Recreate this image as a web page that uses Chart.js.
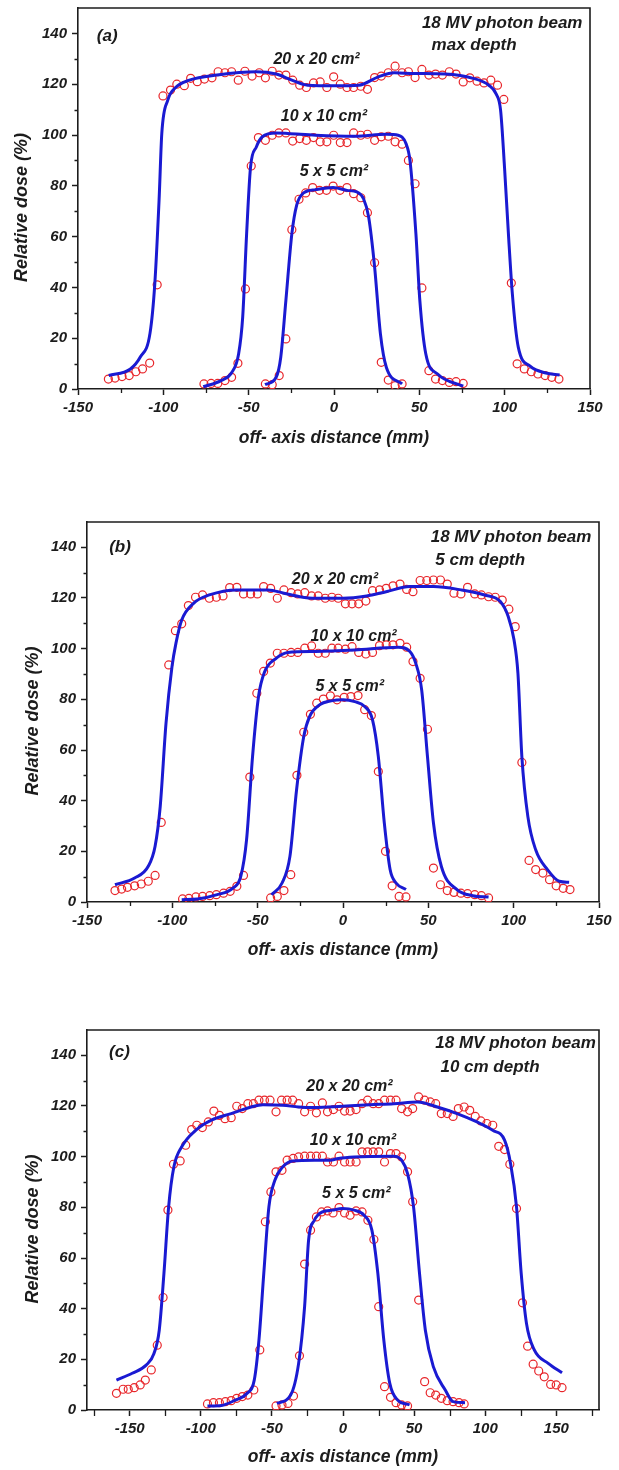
<!DOCTYPE html>
<html><head><meta charset="utf-8">
<script src="https://cdn.jsdelivr.net/npm/chart.js@4.4.1/dist/chart.umd.min.js"></script>
<style>
html,body{margin:0;padding:0;background:#fff;width:619px;height:1470px;overflow:hidden;}
.panel{position:absolute;left:0;width:619px;}
canvas{display:block;}
</style></head><body>
<div class="panel" style="top:0px;height:460px"><canvas id="ca" width="619" height="460"></canvas></div>
<div class="panel" style="top:490px;height:480px"><canvas id="cb" width="619" height="480"></canvas></div>
<div class="panel" style="top:990px;height:480px"><canvas id="cc" width="619" height="480"></canvas></div>
<script>
// ---------------- DATA ----------------
// tick values
const xTicksAB = [-150,-125,-100,-75,-50,-25,0,25,50,75,100,125,150];
const xMajorAB = [-150,-100,-50,0,50,100,150];
const xTicksC = [-175,-150,-125,-100,-75,-50,-25,0,25,50,75,100,125,150,175];
const xMajorC = [-150,-100,-50,0,50,100,150];
const yTicks = [0,10,20,30,40,50,60,70,80,90,100,110,120,130,140,150];
const yMajor = [0,20,40,60,80,100,120,140];

// Panel (a) : max depth  [off-axis mm, relative dose %]
const aFit20 = [[-132,5.3],[-119.3,7.9],[-113.5,12.6],[-107.8,22],[-105,41.4],[-102.5,74.3],[-100.9,100.6],[-97.4,113.7],[-92.8,118.7],[-84.7,121.6],[-68.5,123.6],[-45.5,124.9],[-33.9,124],[-24.7,121.6],[-15.5,119.6],[0.7,119.4],[14.5,119.6],[26,122.9],[35.3,124.5],[46.8,124.2],[65.3,124],[81.5,122.3],[90.7,119.6],[94.9,116.3],[97.6,109.8],[99.9,87.4],[102.2,61.1],[104.5,37.5],[108,16.4],[114.9,9],[124.2,6.3],[132.2,5.5]];
const aMeas20 = [[-132.2,3.9],[-128.3,4.3],[-124.2,4.9],[-120,5.3],[-116.1,6.8],[-112.2,7.9],[-108,10.2],[-103.6,41],[-100.2,115.4],[-95.8,117.7],[-92.1,120],[-87.7,119.4],[-84,122.3],[-80.1,121],[-75.9,122],[-71.5,122.5],[-67.9,124.9],[-63.9,124.5],[-60,124.9],[-56.1,121.6],[-52.2,125.1],[-48,123.2],[-43.8,124.5],[-40.2,122.5],[-36.2,125.1],[-32.3,123.6],[-28.2,123.6],[-24.2,121.6],[-20.1,119.6],[-16.2,118.7],[-12,120.5],[-8.1,120.9],[-4.2,118.7],[-0.2,122.9],[3.7,120],[7.6,118.7],[11.5,118.7],[15.7,119.2],[19.6,118],[23.8,122.6],[27.7,123.2],[31.8,124.5],[35.8,127.1],[39.9,124.5],[43.6,124.9],[47.5,122.6],[51.5,125.8],[55.6,123.6],[59.5,124],[63.5,123.6],[67.6,124.9],[71.5,124],[75.7,120.9],[79.6,122.5],[83.8,121.2],[87.9,120.5],[91.9,121.6],[95.8,119.6],[99.5,114],[103.9,41.7],[107.3,9.9],[111.5,7.9],[115.6,6.8],[119.5,5.9],[123.7,5.3],[127.6,4.6],[131.8,3.9]];
const aFit10 = [[-76.6,0.9],[-66.2,3.3],[-59.8,6.6],[-55.9,13.8],[-53.5,28.3],[-51.2,61.1],[-48.9,87.4],[-45.5,95.3],[-42,99.3],[-33.9,100.8],[-27,100.6],[-10.8,99.9],[12.2,99.5],[30.7,100.3],[37.6,99.9],[42.2,96.6],[44.5,90],[48,61.1],[50.3,34.8],[53.8,13.8],[60.7,5.9],[75.7,1.1]];
const aMeas10 = [[-76.2,2],[-72,2.2],[-68.1,2.2],[-63.9,3.3],[-60,4.6],[-56.3,10.1],[-51.9,39.4],[-48.5,87.8],[-44.3,99],[-40.2,97.9],[-36.2,99.9],[-32.3,100.8],[-28.2,100.8],[-24.2,97.6],[-20.1,98.6],[-16.2,97.9],[-12,99],[-8.1,97.3],[-4.2,97.3],[-0.2,99.9],[3.7,97],[7.6,97],[11.5,100.8],[15.7,99.9],[19.6,100.3],[23.8,97.9],[27.7,99.3],[31.8,99.5],[35.8,97.3],[39.9,96.4],[43.6,90],[47.5,80.8],[51.5,39.8],[55.6,7.2],[59.5,3.9],[63.5,3.3],[67.6,2.6],[71.5,2.9],[75.7,2.2]];
const aFit5 = [[-40.4,1.7],[-33.9,4.6],[-31.2,12.5],[-28.2,34.8],[-24.7,61.1],[-21.9,72.3],[-17.8,77.2],[-10.8,78.5],[-0.5,79.3],[7.6,78.2],[13.4,77.6],[17.3,74.9],[20.3,67.7],[23.8,48],[27.2,21.7],[30.7,8.5],[39.9,2]];
const aMeas5 = [[-40.2,2],[-36.2,1.7],[-32.1,5.3],[-28.2,19.7],[-24.7,62.7],[-20.5,74.7],[-16.6,77.2],[-12.5,79.3],[-8.5,78.2],[-4.4,78.2],[-0.5,79.9],[3.5,78.2],[7.6,79.3],[11.5,76.9],[15.7,75.3],[19.6,69.4],[23.8,49.7],[27.7,10.5],[31.8,3.5],[35.8,1.3],[39.9,2]];

// Panel (b) : 5 cm depth
const bFit20 = [[-133.6,6.8],[-122.1,9.5],[-114.1,14.1],[-110.1,22],[-107.1,37.7],[-103.7,70.6],[-100.2,92.9],[-97.9,102.1],[-94.5,111.3],[-87.6,117.9],[-78.3,121.2],[-62.2,123.2],[-43.8,123.2],[-34.6,121.9],[-25.3,120.5],[-16.1,119.9],[0,119.9],[13.8,120.8],[25.3,122.5],[39.2,124.5],[53,124.5],[69.1,123.2],[82.9,121.2],[92.2,118.6],[96.8,112.7],[100.2,103.5],[102.5,90.3],[104.8,57.4],[108.3,33.8],[112.9,20.6],[119.8,12.8],[126.7,8.2],[132.5,7.8]];
const bMeas20 = [[-133.6,4.5],[-129.7,5.1],[-126.3,5.8],[-122.1,6.4],[-118.2,7.1],[-114.1,8.2],[-110.1,10.5],[-106.5,31.4],[-102.1,93.6],[-98.2,107.1],[-94.5,109.8],[-90.6,117],[-86.4,120.3],[-82.3,121.2],[-78.3,119.9],[-74.2,120.3],[-70.3,120.8],[-66.4,124.1],[-62.2,124.2],[-58.3,121.6],[-54.1,121.6],[-50.2,121.6],[-46.5,124.5],[-42.4,123.8],[-38.5,119.9],[-34.6,123.2],[-30.4,122.1],[-26.5,121.6],[-22.4,122.1],[-18.4,120.8],[-14.5,120.8],[-10.4,119.9],[-6.5,120.3],[-2.8,119.9],[1.4,117.7],[5.3,117.7],[9.2,117.7],[13.4,118.8],[17.3,122.9],[21.4,123.2],[25.3,123.8],[29.3,124.8],[33.4,125.5],[37.3,123.4],[41,122.5],[45.2,126.9],[49.1,126.9],[53,127.1],[57.1,127.1],[61.1,125.5],[65,121.9],[69.1,121.6],[73,124.2],[77.2,121.6],[81.1,121.2],[85.3,120.5],[89.2,120.3],[93.3,119.2],[97.2,115.6],[100.9,108.7],[104.8,55.1],[109,16.4],[112.9,12.8],[117.1,11.4],[121,8.8],[124.9,6.4],[129,5.4],[133,4.9]];
const bFit10 = [[-94.5,0.9],[-85.3,1.2],[-73.7,2.9],[-64.5,5.5],[-59.9,10.1],[-56.5,24.6],[-53,57.4],[-49.5,81.1],[-46.1,90.6],[-39.2,96.2],[-32.3,98.5],[-16.1,98.9],[6.9,99.5],[32.3,100.6],[39.2,98.9],[42.6,94.3],[46.1,83.7],[49.5,57.4],[53,31.2],[57.6,14.1],[66.8,4.9],[76,2.5],[85.3,2]];
const bMeas10 = [[-94,1.2],[-90.3,1.4],[-86.2,2],[-82.3,2.2],[-78.1,2.5],[-74.2,2.9],[-70,3.5],[-66.1,4.2],[-62.2,6.2],[-58.3,10.5],[-54.6,49.3],[-50.5,82.4],[-46.5,91],[-42.6,94.3],[-38.5,98.2],[-34.6,98.2],[-30.4,98.5],[-26.5,98.5],[-22.4,100.2],[-18.4,101.1],[-14.5,98.2],[-10.4,98.2],[-6.5,100.2],[-2.8,100.2],[1.4,99.8],[5.3,100.8],[9.2,98.5],[13.4,97.9],[17.3,98.5],[21.4,101.2],[25.3,101.5],[29.3,101.5],[33.4,102.1],[37.3,100.6],[41,94.9],[45.2,88.3],[49.5,68.2],[53,13.4],[57.1,6.8],[61.1,4.5],[65,3.8],[69.1,3.5],[73,3.3],[77.2,2.9],[81.1,2.5],[85.3,1.6]];
const bFit5 = [[-41.9,2.9],[-35.7,7.5],[-31.1,18],[-27.2,44.3],[-23,65.3],[-19.6,73.2],[-13.8,77.8],[-6.9,79.4],[0,79.8],[6.9,79.1],[12.7,77.2],[17.3,71.9],[20.7,57.4],[24.2,31.2],[27.6,12.8],[31.1,7.5],[36.9,4.9]];
const bMeas5 = [[-42.4,1.6],[-38.5,2.2],[-34.6,4.5],[-30.6,10.8],[-27,50],[-23,67],[-19.1,74.1],[-15.4,78.5],[-11.5,80.1],[-7.4,81.4],[-3.5,79.8],[0.7,80.8],[4.6,81.1],[8.8,81.5],[12.7,75.9],[16.6,73.6],[20.7,51.5],[24.9,20],[28.8,6.4],[32.9,2.2],[36.9,2]];

// Panel (c) : 10 cm depth
const cFit20 = [[-159.3,11.8],[-148.2,14.5],[-138.4,17.7],[-132.9,22.3],[-129.2,31.5],[-125.9,53.9],[-122.6,80.2],[-118.9,96],[-113.4,103.9],[-103.6,110.4],[-92.5,114.4],[-78.6,117],[-64.6,119.6],[-56.3,120.5],[-42.3,120.3],[-31.2,119.6],[-20.1,119.4],[-0.6,119.9],[18.9,120.5],[35.7,120.9],[52.4,121.6],[66.3,119.6],[80.2,117],[94.2,113.7],[105.3,110.4],[113.6,106.5],[117.8,97.3],[122,80.2],[125.3,53.9],[129,34.2],[134.5,23.7],[144.3,18.4],[154,14.7]];
const cMeas20 = [[-159.3,6.6],[-154.6,8.2],[-151,8.2],[-146.8,8.8],[-142.6,9.9],[-139,11.8],[-134.8,15.8],[-130.6,25.6],[-126.5,44.4],[-123.1,78.9],[-119.2,97],[-114.5,98.3],[-110.6,104.5],[-106.4,110.7],[-102.8,112.4],[-98.9,111.5],[-94.7,113.7],[-90.8,118],[-86.9,116.3],[-83,115],[-78.6,115.4],[-74.7,119.9],[-70.8,119],[-66.9,120.9],[-63,120.9],[-59.1,122.3],[-55.2,122.3],[-51.3,122.3],[-47.1,117.7],[-43.2,122.3],[-39.3,122.3],[-35.4,122.3],[-31.2,120.9],[-27,117.7],[-22.8,119.9],[-18.7,117.3],[-14.5,121.2],[-10.9,117.7],[-6.7,118.6],[-2.8,119.9],[1.1,118],[5,118],[9.2,118.6],[13.4,120.9],[17.3,122.3],[21.2,120.9],[25.1,120.9],[29.2,122.3],[33.4,122.3],[37.3,122.3],[41.2,119],[45.4,117.7],[49,119],[53.2,123.6],[57.4,122.3],[61.3,121.6],[65.2,120.9],[69.1,117],[73.3,117],[77.4,115.9],[81.1,119],[85.2,119.6],[89.1,118.3],[93,115.9],[96.9,114.1],[101.1,113.1],[105.3,112.4],[109.5,104.1],[113.6,102.8],[117.3,97],[122,79.5],[126.2,42.3],[129.8,25.2],[133.7,18.1],[137.6,15.4],[141.5,13.1],[146,10.1],[149.9,9.9],[154,8.8]];
const cFit10 = [[-95.3,1.6],[-85.5,1.8],[-75.8,3.9],[-67.4,6.6],[-62.4,11.8],[-59.1,27.6],[-55.7,53.9],[-52.1,80.2],[-47.9,90.7],[-42.3,96],[-35.4,98.3],[-20.1,98.6],[-8.9,98.6],[-3.3,99.3],[7.8,99.9],[35.7,100.2],[41.2,98.6],[45.4,93.3],[49.6,80.2],[53.8,53.9],[57.9,31.5],[63.5,17.1],[71.9,7.9],[77.4,3.3],[85.8,2.9]];
const cMeas10 = [[-95.3,2.4],[-91.1,2.9],[-86.9,2.9],[-82.7,3.3],[-78.6,3.7],[-74.7,4.6],[-70.8,5.3],[-66.9,5.9],[-62.7,7.9],[-58.5,23.7],[-54.6,74.3],[-50.7,86.1],[-47.1,94],[-42.9,94.6],[-39.3,98.6],[-35.1,99.3],[-31.2,99.9],[-27,100.2],[-22.8,100.2],[-18.7,100.2],[-14.5,100.2],[-10.9,97.9],[-6.7,97.9],[-2.8,100.2],[1.1,97.9],[5,97.9],[9.2,97.9],[13.4,101.9],[17.3,101.9],[21.2,101.9],[25.1,101.9],[29.2,97.9],[33.4,101.2],[37.3,101.2],[41.2,99.9],[45.4,94],[49,82.2],[53.2,43.4],[57.4,11.2],[61.3,6.8],[65.2,5.9],[69.1,4.6],[73.3,3.7],[77.4,3.3],[81.6,2.9],[85.2,2.4]];
const cFit5 = [[-46.5,2.6],[-36.8,5.9],[-31.2,18.4],[-27,40.8],[-24.2,67],[-20.1,74.9],[-14.5,78.2],[-7.5,78.9],[-0.6,79.5],[7.8,78.9],[14.8,76.9],[20.3,71],[24.5,53.9],[28.7,27.6],[32.9,10.5],[38.4,3.9],[46.8,2]];
const cMeas5 = [[-47.1,1.6],[-42.9,2],[-38.7,2.6],[-34.8,5.5],[-30.6,21.4],[-27,57.6],[-22.8,71],[-18.7,76.2],[-15,78.2],[-10.9,78.6],[-7,77.8],[-2.8,79.9],[1.1,77.8],[5,76.9],[9.2,78.6],[13.4,78.2],[17.5,74.9],[21.7,67.3],[25.1,40.8],[29.2,9.2],[33.4,5],[37.3,2.9],[41.2,2],[45.4,1.6]];

// ---------------- STYLE / RENDER ----------------
const FONT = '"Liberation Sans", Arial, Helvetica, sans-serif';
const INK = '#1c1c1c';
const BLUE = '#1a1ad2';
const RED = '#e8262b';

const framePlugin = {
  id: 'frame',
  afterDraw(chart) {
    const {ctx, chartArea: a, scales: {x, y}} = chart;
    ctx.save();
    ctx.strokeStyle = INK; ctx.lineWidth = 1.6;
    ctx.beginPath();
    ctx.moveTo(a.left, a.top); ctx.lineTo(a.right, a.top); ctx.lineTo(a.right, a.bottom);
    ctx.stroke();
    // minor ticks (shorter)
    ctx.lineWidth = 1.3;
    const o = chart.options.plugins.frame;
    ctx.beginPath();
    x.ticks.forEach(t => {
      if (!o.xMajor.includes(t.value)) {
        const p = Math.round(x.getPixelForValue(t.value)) + 0.5;
        ctx.moveTo(p, a.bottom); ctx.lineTo(p, a.bottom + o.xMinorLen);
      }
    });
    y.ticks.forEach(t => {
      if (!o.yMajor.includes(t.value) && t.value !== 150) {
        const p = Math.round(y.getPixelForValue(t.value)) + 0.5;
        ctx.moveTo(a.left, p); ctx.lineTo(a.left - 3.5, p);
      }
    });
    ctx.stroke();
    ctx.restore();
  }
};

const annotPlugin = {
  id: 'annot',
  afterDatasetsDraw(chart, args, opts) {
    const {ctx, scales: {x, y}} = chart;
    ctx.save();
    ctx.fillStyle = INK;
    ctx.textBaseline = 'middle';
    ctx.textAlign = 'left';
    opts.items.forEach(t => {
      ctx.font = 'italic bold ' + t.size + 'px ' + FONT;
      ctx.fillText(t.text, x.getPixelForValue(t.x), y.getPixelForValue(t.y));
    });
    ctx.restore();
  }
};

function toXY(arr) { return arr.map(p => ({x: p[0], y: p[1]})); }

function makePanel(id, c) {
  const fitSets = c.fits.map(f => ({
    data: toXY(f), showLine: true, borderColor: BLUE, borderWidth: 3,
    pointRadius: 0, cubicInterpolationMode: 'monotone', order: 1
  }));
  const measSets = c.meas.map(m => ({
    data: toXY(m), showLine: false, pointStyle: 'circle', pointRadius: 4,
    pointBorderWidth: 1.2, pointBorderColor: RED, pointBackgroundColor: 'rgba(0,0,0,0)', order: 2
  }));
  const tickFont = {family: FONT, size: 15, weight: 'bold', style: 'italic'};
  const yTitleFont = {family: FONT, size: 18, weight: 'bold', style: 'italic'};
  const xTitleFont = {family: FONT, size: 17.5, weight: 'bold', style: 'italic'};
  return new Chart(document.getElementById(id), {
    type: 'scatter',
    data: {datasets: fitSets.concat(measSets)},
    plugins: [framePlugin, annotPlugin],
    options: {
      responsive: false, animation: false, devicePixelRatio: 1,
      layout: {padding: c.padding},
      plugins: {
        legend: {display: false}, tooltip: {enabled: false},
        annot: {items: c.texts},
        frame: {xMajor: c.xMajor, yMajor: yMajor, xMinorLen: c.xMinorLen}
      },
      scales: {
        x: {
          type: 'linear', min: c.xMin, max: c.xMax,
          afterBuildTicks: ax => { ax.ticks = c.xTicks.map(v => ({value: v})); },
          afterFit: s => { s.height = c.xAxisH; s.paddingLeft = 0; s.paddingRight = 0; },
          ticks: {autoSkip: false, maxRotation: 0, minRotation: 0, padding: 4, color: INK, font: tickFont,
                  callback: v => c.xMajor.includes(v) ? String(v) : ''},
          grid: {drawOnChartArea: false, tickLength: 6, tickWidth: 1.5,
                 tickColor: ctx => (ctx.tick && c.xMajor.includes(ctx.tick.value)) ? INK : 'rgba(0,0,0,0)'},
          border: {display: true, color: INK, width: 1.6},
          title: {display: true, text: 'off- axis distance (mm)', color: INK, font: xTitleFont, padding: {bottom: c.xTitlePad, top: 0}}
        },
        y: {
          type: 'linear', min: 0, max: 150,
          afterBuildTicks: ax => { ax.ticks = yTicks.map(v => ({value: v})); },
          afterFit: s => { s.width = c.yAxisW; s.paddingTop = 0; s.paddingBottom = 0; },
          ticks: {autoSkip: false, padding: 5, color: INK, font: tickFont,
                  callback: v => yMajor.includes(v) ? String(v) : ''},
          grid: {drawOnChartArea: false, tickLength: 6, tickWidth: 1.5,
                 tickColor: ctx => (ctx.tick && yMajor.includes(ctx.tick.value)) ? INK : 'rgba(0,0,0,0)'},
          border: {display: true, color: INK, width: 1.6},
          title: {display: true, text: 'Relative dose (%)\u2002\u2002', color: INK, font: yTitleFont, padding: {top: c.yTitlePad, bottom: 0}}
        }
      }
    }
  });
}

makePanel('ca', {
  fits: [aFit20, aFit10, aFit5], meas: [aMeas20, aMeas10, aMeas5],
  xMin: -150, xMax: 150, xTicks: xTicksAB, xMajor: xMajorAB, xMinorLen: 4,
  padding: {top: 8, right: 29, left: 0, bottom: 0}, yAxisW: 78, xAxisH: 71,
  xTitlePad: 11, yTitlePad: 11,
  texts: [
    {text: '(a)', x: -139, y: 139, size: 17},
    {text: '18 MV photon beam', x: 51.5, y: 144, size: 17},
    {text: 'max depth', x: 57.2, y: 135.4, size: 17},
    {text: '20 x 20 cm²', x: -35.5, y: 129.7, size: 16},
    {text: '10 x 10 cm²', x: -31.2, y: 107.1, size: 16},
    {text: '5 x 5 cm²', x: -20.1, y: 85.4, size: 16}
  ]
});
makePanel('cb', {
  fits: [bFit20, bFit10, bFit5], meas: [bMeas20, bMeas10, bMeas5],
  xMin: -150, xMax: 150, xTicks: xTicksAB, xMajor: xMajorAB, xMinorLen: 4,
  padding: {top: 32, right: 20, left: 0, bottom: 0}, yAxisW: 87, xAxisH: 68,
  xTitlePad: 9, yTitlePad: 22,
  texts: [
    {text: '(b)', x: -137, y: 140, size: 17},
    {text: '18 MV photon beam', x: 51.4, y: 143.8, size: 17},
    {text: '5 cm depth', x: 54.1, y: 135, size: 17},
    {text: '20 x 20 cm²', x: -30, y: 127.1, size: 16},
    {text: '10 x 10 cm²', x: -19.1, y: 104.8, size: 16},
    {text: '5 x 5 cm²', x: -16.1, y: 85, size: 16}
  ]
});
makePanel('cc', {
  fits: [cFit20, cFit10, cFit5], meas: [cMeas20, cMeas10, cMeas5],
  xMin: -180, xMax: 180, xTicks: xTicksC, xMajor: xMajorC, xMinorLen: 6,
  padding: {top: 40, right: 20, left: 0, bottom: 0}, yAxisW: 87, xAxisH: 60,
  xTitlePad: 2, yTitlePad: 22,
  texts: [
    {text: '(c)', x: -164.5, y: 141.3, size: 17},
    {text: '18 MV photon beam', x: 64.9, y: 144.6, size: 17},
    {text: '10 cm depth', x: 68.5, y: 135.4, size: 17},
    {text: '20 x 20 cm²', x: -25.8, y: 127.5, size: 16},
    {text: '10 x 10 cm²', x: -23.3, y: 106.5, size: 16},
    {text: '5 x 5 cm²', x: -14.7, y: 85.4, size: 16}
  ]
});
</script>
</body></html>
